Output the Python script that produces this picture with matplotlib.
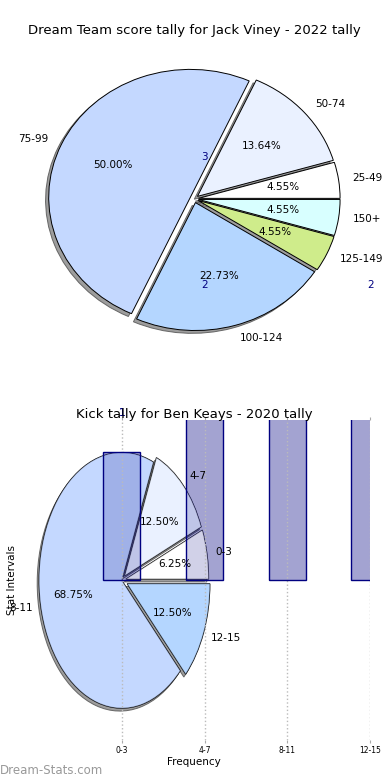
import numpy as np
import matplotlib
matplotlib.use("Agg")
from matplotlib import pyplot as plt

# Jack Viney - Dream Team score tally (2022)
score_bins = ['25-49', '50-74', '75-99', '100-124', '125-149', '150+']
score_counts = [1, 3, 11, 5, 1, 1]
score_explode = [0.03, 0.03, 0.03, 0.03, 0.03, 0.03]

# Ben Keays - kick tally (2020)
kick_bins = ['0-3', '4-7', '8-11', '12-15']
kick_counts = [1, 2, 11, 2]
kick_explode = [0.05, 0.05, 0.0, 0.07]

wedge_colors = ['#ffffff', '#eaf1ff', '#c4d8ff', '#b4d6ff', '#cfec8b', '#d8ffff']
shadow_style = {'ox': -0.016, 'oy': -0.016, 'facecolor': '#8c8c8c',
				'edgecolor': '#555555', 'alpha': 0.85}
edge_style = {'edgecolor': 'black', 'linewidth': 0.7, 'zorder': 1}

fig = plt.figure(figsize=(3.9, 7.8), dpi=100)

# top pie
ax1 = fig.add_axes([0.044, 0.54, 0.908, 0.41])
ax1.pie(score_counts, labels=score_bins, colors=wedge_colors, explode=score_explode,
		autopct='%1.2f%%', shadow=shadow_style, startangle=0,
		wedgeprops=edge_style, textprops={'fontsize': 7.5})
ax1.set_aspect('auto')
ax1.set_xlim(-1.25, 1.25)
ax1.set_ylim(-1.25, 1.25)
ax1.set_title('Dream Team score tally for Jack Viney - 2022 tally', fontsize=9.5, pad=3.5)

# bottom: pie and bars share one axes
ax2 = fig.add_axes([0.047, 0.051, 0.902, 0.41])
ax2.pie(kick_counts, labels=kick_bins, colors=wedge_colors[:4], explode=kick_explode,
		autopct='%1.2f%%', shadow=shadow_style, startangle=0,
		wedgeprops=edge_style, textprops={'fontsize': 7.5, 'zorder': 5})
x = np.arange(len(kick_bins))
ax2.bar(x, kick_counts, width=0.45, color=(0, 0, 0.5, 0.36), linewidth=0, zorder=1.5)
ax2.pie(kick_counts, colors=wedge_colors[:4], explode=kick_explode, startangle=0,
		wedgeprops={'linewidth': 0, 'alpha': 0.5, 'zorder': 2})
ax2.bar(x, kick_counts, width=0.45, color='none', edgecolor='navy', linewidth=1, zorder=3)

ax2.set_aspect('auto')
ax2.set_xlim(-1.25, 3.0)
ax2.set_ylim(-1.25, 1.25)

# value labels (both tallies end up in this axes), only those landing on the figure
W, H = fig.canvas.get_width_height()
for counts in (score_counts, kick_counts):
	for i, v in enumerate(counts):
		px, py = ax2.transData.transform((i, v + 0.27))
		if 5 < px < W - 5 and py < H - 12:
			ax2.text(i, v + 0.27, str(v), ha='center', va='bottom', color='navy', fontsize=7.5)

ax2.set_frame_on(False)
ax2.set_xticks(x, kick_bins, fontsize=5.5)
ax2.set_yticks([])
ax2.tick_params(axis='x', length=2.5, color='#aaaaaa', pad=2, top=True)
ax2.set_axisbelow(False)
ax2.grid(axis='x', linestyle=':', color='#bbbbbb', linewidth=1)
ax2.set_xlabel('Frequency', fontsize=7.5, labelpad=1)
ax2.set_ylabel('Stat Intervals', fontsize=7.5, labelpad=1)
ax2.set_title('Kick tally for Ben Keays - 2020 tally', fontsize=9.5, pad=2)

fig.text(0.0, 0.008, 'Dream-Stats.com', fontsize=8.5, color='#999999')

plt.savefig('out.png', dpi=100)
